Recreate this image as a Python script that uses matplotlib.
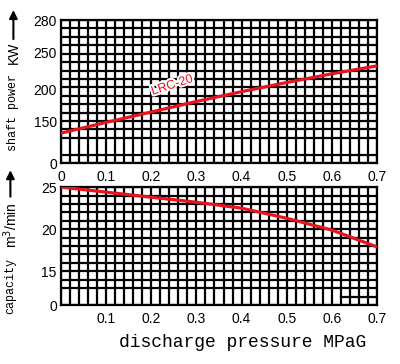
import numpy as np
import matplotlib
matplotlib.use('Agg')
import matplotlib.pyplot as plt
import matplotlib.patheffects as pe

# discharge pressure (MPaG)
pressure = [0.0, 0.1, 0.2, 0.3, 0.4, 0.5, 0.6, 0.7]
# shaft power (kW) and capacity (m3/min) of LRC-20
power = [109, 148, 165, 181, 196, 209, 221, 232]
capacity = [25.0, 24.4, 23.8, 23.2, 22.5, 21.3, 19.9, 17.9]

power_ticks = [0, 150, 200, 250, 280]
capacity_ticks = [0, 15, 20, 25]
top_xticks = [0, 0.1, 0.2, 0.3, 0.4, 0.5, 0.6, 0.7]
bottom_xticks = [0.1, 0.2, 0.3, 0.4, 0.5, 0.6, 0.7]

# broken (hand drawn) y scales: value -> grid row
power_rows = [0, 4.9, 8.8, 13.1, 17]
capacity_rows = [0, 4, 9, 14]

GRID_LW = 1.6
SANS = 'Liberation Sans'
SERIF = 'Liberation Mono'


def row_scale(vals, rows):
    fwd = lambda v: np.interp(v, vals, rows)
    inv = lambda r: np.interp(r, rows, vals)
    return fwd, inv


def draw_grid(ax, nrows, rows):
    for r in rows:
        ax.plot([0, 1], [r / nrows, r / nrows], transform=ax.transAxes,
                color='black', lw=GRID_LW, zorder=1, solid_capstyle='butt')
    ax.vlines(np.arange(0, 0.7001, 0.02), 0, 1, transform=ax.get_xaxis_transform(),
              color='black', lw=GRID_LW, zorder=1)


def style(ax):
    for s in ax.spines.values():
        s.set_linewidth(GRID_LW)
    ax.tick_params(length=0, labelsize=10)
    for lab in ax.get_xticklabels() + ax.get_yticklabels():
        lab.set_family(SANS)
    ax.set_xlim(0, 0.7)


fig = plt.figure(figsize=(4, 3.64), dpi=100)

# shaft power
ax1 = fig.add_axes([0.1525, 0.552, 0.79, 0.393])
ax1.set_yscale('function', functions=row_scale(power_ticks, power_rows))
ax1.set_ylim(0, 280)
draw_grid(ax1, 17, [0, 1] + list(range(3, 18)))
ax1.plot(pressure, power, color='#e8141c', lw=2.3, zorder=3, solid_capstyle='butt')
ax1.set_yticks(power_ticks)
ax1.set_xticks(top_xticks)
ax1.set_xticklabels(['0', '0.1', '0.2', '0.3', '0.4', '0.5', '0.6', '0.7'])
ax1.tick_params(axis='x', pad=5)
ax1.tick_params(axis='y', pad=3)
style(ax1)
ax1.text(0.246, 205, 'LRC-20', color='#e8141c', fontsize=9, family=SANS,
         rotation=18, ha='center', va='center', zorder=4,
         path_effects=[pe.withStroke(linewidth=3, foreground='white')])

# capacity
ax2 = fig.add_axes([0.1525, 0.162, 0.79, 0.324])
ax2.set_yscale('function', functions=row_scale(capacity_ticks, capacity_rows))
ax2.set_ylim(0, 25)
draw_grid(ax2, 14, [0] + list(range(2, 15)))
ax2.plot([0.62, 0.7], [1 / 14, 1 / 14], transform=ax2.get_xaxis_transform(),
         color='black', lw=GRID_LW, zorder=1)
ax2.plot(pressure, capacity, color='#e8141c', lw=2.3, zorder=3, solid_capstyle='butt')
ax2.set_yticks(capacity_ticks)
ax2.set_xticks(bottom_xticks)
ax2.set_xticklabels(['0.1', '0.2', '0.3', '0.4', '0.5', '0.6', '0.7'])
ax2.tick_params(axis='x', pad=5)
ax2.tick_params(axis='y', pad=3)
style(ax2)

# axis titles with arrows
fig.text(0.0335, 0.692, 'shaft power', rotation=90, family=SERIF, fontsize=8.5,
         ha='center', va='center')
fig.text(0.0335, 0.854, 'KW', rotation=90, family=SANS, fontsize=10,
         ha='center', va='center')
fig.add_artist(plt.matplotlib.patches.FancyArrowPatch(
    (0.0335, 0.885), (0.0335, 0.98), transform=fig.transFigure,
    arrowstyle='-|>', mutation_scale=12, lw=1.5, color='black'))

fig.text(0.026, 0.215, 'capacity', rotation=90, family=SERIF, fontsize=8.5,
         ha='center', va='center')
fig.text(0.026, 0.382, 'm$^{3}$/min', rotation=90, family=SANS, fontsize=10,
         ha='center', va='center')
fig.add_artist(plt.matplotlib.patches.FancyArrowPatch(
    (0.026, 0.452), (0.026, 0.54), transform=fig.transFigure,
    arrowstyle='-|>', mutation_scale=12, lw=1.5, color='black'))

fig.text(0.607, 0.058, 'discharge pressure MPaG', family=SERIF, fontsize=13,
         ha='center', va='center')

fig.savefig('out.png', dpi=100)
